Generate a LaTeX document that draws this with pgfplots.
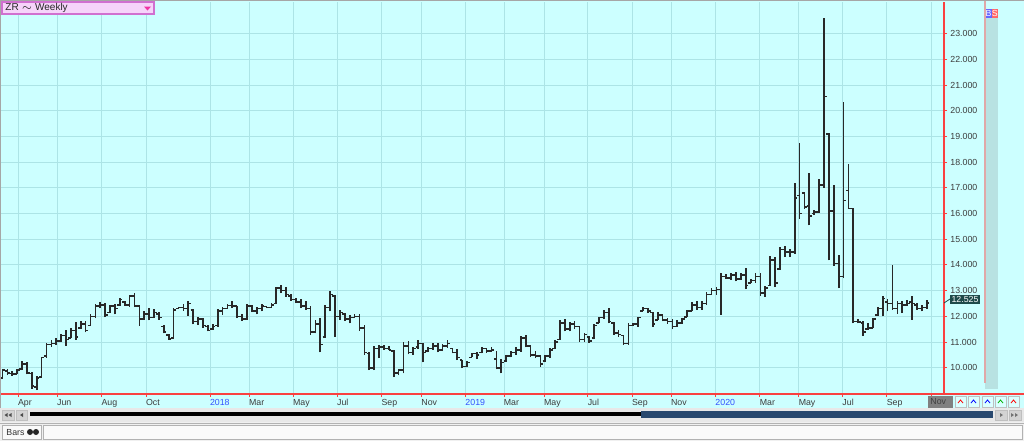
\documentclass[border=0pt]{standalone}
\usepackage{pgfplots}
\pgfplotsset{compat=1.18}
\usepackage{pgfplotstable}
\usepackage{fontspec}
\setmainfont{Liberation Sans}

\definecolor{bgc}{RGB}{204,255,255}
\definecolor{gridc}{RGB}{172,228,230}
\definecolor{barc}{RGB}{40,40,40}
\definecolor{axred}{RGB}{250,64,64}
\definecolor{yearblue}{RGB}{50,80,255}
\definecolor{labgrey}{RGB}{60,60,60}
\definecolor{stripc}{RGB}{184,226,226}
\definecolor{pinkline}{RGB}{224,168,168}
\definecolor{tagc}{RGB}{30,74,74}
\definecolor{novc}{RGB}{128,128,128}
\definecolor{pinkfill}{RGB}{246,212,250}
\definecolor{pinkedge}{RGB}{208,112,208}
\definecolor{scrollbg}{RGB}{232,232,232}
\definecolor{navybar}{RGB}{40,72,110}
\definecolor{statusbg}{RGB}{240,240,240}

% open tick to the left, close tick to the right
\pgfdeclareplotmark{otick}{\pgfpathmoveto{\pgfqpoint{-1.3pt}{0pt}}\pgfpathlineto{\pgfqpoint{0pt}{0pt}}\pgfusepathqstroke}
\pgfdeclareplotmark{ctick}{\pgfpathmoveto{\pgfqpoint{0pt}{0pt}}\pgfpathlineto{\pgfqpoint{1.3pt}{0pt}}\pgfusepathqstroke}

% weekly bars: index, open, high, low, close
\pgfplotstableread{
x O H L C
0 9.60 9.94 9.56 9.90
1 9.88 9.95 9.71 9.80
2 9.78 9.88 9.69 9.75
3 9.76 9.94 9.74 9.90
4 9.95 10.26 9.91 10.15
5 10.15 10.23 9.74 9.80
6 9.78 9.82 9.19 9.30
7 9.25 9.67 9.13 9.60
8 9.65 10.43 9.65 10.40
9 10.45 10.95 10.39 10.90
10 10.90 11.08 10.82 10.95
11 10.95 11.15 10.89 11.05
12 11.05 11.30 11.02 11.25
13 11.25 11.47 10.86 11.10
14 11.15 11.54 11.15 11.45
15 11.45 11.77 11.08 11.20
16 11.55 11.80 11.51 11.70
17 11.70 11.80 11.38 11.45
18 11.65 12.08 11.64 12.00
19 12.00 12.47 11.93 12.40
20 12.40 12.54 12.32 12.45
21 12.45 12.51 11.97 12.05
22 12.15 12.45 12.12 12.40
23 12.40 12.47 12.08 12.30
24 12.45 12.71 12.42 12.65
25 12.55 12.58 12.42 12.45
26 12.45 12.84 12.38 12.80
27 12.80 12.90 12.36 12.40
28 12.40 12.45 11.64 11.90
29 11.90 12.21 11.86 12.10
30 12.10 12.32 11.84 11.95
31 11.95 12.28 11.93 12.15
32 12.10 12.15 11.86 11.95
33 11.60 11.67 11.34 11.40
34 11.28 11.30 11.08 11.12
35 11.15 12.32 11.11 12.25
36 12.30 12.38 12.28 12.35
37 12.35 12.47 12.21 12.30
38 12.30 12.58 12.03 12.50
39 12.25 12.28 11.69 11.80
40 11.80 11.99 11.67 11.90
41 11.90 11.95 11.56 11.65
42 11.60 11.67 11.41 11.45
43 11.50 11.69 11.47 11.60
44 11.65 12.29 11.60 12.20
45 12.20 12.38 12.06 12.30
46 12.30 12.47 12.29 12.42
47 12.42 12.58 12.32 12.40
48 12.40 12.42 11.93 12.00
49 12.00 12.08 11.82 11.90
50 11.90 12.47 11.86 12.40
51 12.40 12.45 12.16 12.20
52 12.20 12.38 12.08 12.30
53 12.30 12.47 12.19 12.40
54 12.38 12.42 12.32 12.35
55 12.35 12.51 12.32 12.45
56 12.50 13.16 12.47 13.10
57 13.10 13.20 12.90 13.00
58 13.00 13.16 12.77 12.85
59 12.80 12.86 12.60 12.65
60 12.65 12.71 12.51 12.55
61 12.55 12.67 12.32 12.40
62 12.40 12.60 12.25 12.30
63 12.30 12.42 11.28 11.40
64 11.40 11.86 11.34 11.70
65 11.70 11.93 10.60 10.90
66 11.20 12.45 11.17 12.35
67 12.35 13.00 12.19 12.85
68 12.80 12.84 11.21 12.00
69 12.00 12.25 11.86 12.15
70 12.10 12.12 11.82 11.90
71 11.90 12.06 11.73 11.95
72 11.95 12.08 11.93 12.00
73 12.00 12.08 11.43 11.55
74 11.55 11.67 10.50 10.60
75 10.55 10.62 9.91 10.00
76 10.00 10.86 9.91 10.75
77 10.75 10.89 10.37 10.80
78 10.80 10.89 10.69 10.75
79 10.75 10.86 10.69 10.70
80 10.65 10.69 9.65 9.80
81 9.80 9.95 9.71 9.90
82 9.90 11.00 9.78 10.85
83 10.85 11.04 10.52 10.60
84 10.60 10.82 10.50 10.75
85 10.80 11.08 10.73 10.95
86 10.95 10.95 10.21 10.60
87 10.65 10.82 10.60 10.75
88 10.75 10.95 10.69 10.85
89 10.85 10.95 10.60 10.70
90 10.70 10.91 10.65 10.85
91 10.85 11.08 10.78 10.95
92 10.75 10.76 10.56 10.60
93 10.60 10.73 10.30 10.40
94 10.30 10.30 9.98 10.05
95 10.05 10.27 10.04 10.20
96 10.40 10.59 10.40 10.55
97 10.55 10.63 10.33 10.50
98 10.60 10.82 10.56 10.75
99 10.75 10.76 10.59 10.65
100 10.65 10.79 10.63 10.70
101 10.35 10.65 9.94 10.00
102 10.00 10.33 9.78 10.20
103 10.25 10.50 10.24 10.45
104 10.45 10.66 10.40 10.60
105 10.60 10.79 10.50 10.70
106 10.70 11.24 10.63 11.15
107 11.15 11.28 10.79 10.85
108 10.85 10.89 10.43 10.50
109 10.50 10.66 10.37 10.45
110 10.45 10.50 10.04 10.15
111 10.25 10.50 10.24 10.45
112 10.45 10.76 10.37 10.70
113 10.75 11.08 10.72 11.00
114 11.10 11.86 11.08 11.75
115 11.75 11.89 11.41 11.50
116 11.50 11.76 11.41 11.70
117 11.70 11.80 11.50 11.60
118 11.60 11.63 11.02 11.10
119 11.10 11.37 11.02 11.30
120 11.20 11.24 10.98 11.05
121 11.15 11.71 11.10 11.65
122 11.75 11.99 11.73 11.95
123 11.95 12.23 11.89 12.15
124 12.15 12.32 11.73 11.80
125 11.75 11.76 11.28 11.35
126 11.35 11.47 11.21 11.30
127 11.25 11.28 10.89 10.95
128 10.95 11.73 10.89 11.65
129 11.65 11.73 11.63 11.70
130 11.70 11.99 11.60 11.95
131 12.20 12.38 12.19 12.30
132 12.30 12.32 12.12 12.20
133 12.15 12.15 11.60 11.70
134 11.85 12.15 11.84 12.05
135 12.05 12.06 11.80 11.85
136 11.85 11.93 11.71 11.80
137 11.80 11.89 11.50 11.60
138 11.60 11.84 11.60 11.75
139 11.75 11.93 11.71 11.90
140 11.97 12.25 11.97 12.20
141 12.20 12.54 12.19 12.45
142 12.45 12.58 12.25 12.35
143 12.35 12.58 12.25 12.50
144 12.50 12.93 12.45 12.85
145 12.85 13.10 12.84 13.00
146 13.00 13.14 12.84 13.05
147 13.05 13.69 12.06 13.55
148 13.55 13.66 13.45 13.50
149 13.50 13.69 13.43 13.60
150 13.60 13.71 13.36 13.45
151 13.45 13.69 13.43 13.60
152 13.60 13.88 13.06 13.20
153 13.30 13.45 13.30 13.40
154 13.40 13.69 13.30 13.55
155 13.55 13.69 12.80 12.90
156 12.90 13.17 12.77 13.10
157 13.20 14.36 13.19 14.20
158 14.20 14.30 13.14 13.30
159 13.85 14.70 13.82 14.60
160 14.60 14.73 14.30 14.50
161 14.50 14.62 14.30 14.50
162 14.50 17.20 14.44 16.60
163 16.70 18.74 15.80 16.00
164 16.80 16.84 16.19 16.25
165 16.30 17.57 15.54 15.90
166 16.00 16.13 15.95 16.05
167 16.05 17.33 16.03 17.10
168 17.10 23.61 17.00 20.55
169 19.10 19.13 14.18 16.10
170 16.10 17.10 13.97 14.05
171 14.05 14.40 13.10 13.55
172 13.55 20.33 13.49 16.50
173 16.90 17.92 16.19 16.20
174 16.20 16.22 11.73 11.80
175 11.80 11.89 11.73 11.78
176 11.75 11.80 11.24 11.40
177 11.50 11.73 11.47 11.55
178 11.55 11.93 11.54 11.90
179 12.05 12.38 12.02 12.30
180 12.30 12.80 12.00 12.70
181 12.55 12.67 12.19 12.50
182 12.50 14.01 12.25 12.30
183 12.30 12.58 12.10 12.50
184 12.50 12.58 12.12 12.45
185 12.45 12.62 12.41 12.50
186 12.55 12.80 11.86 12.50
187 12.45 12.51 12.25 12.30
188 12.30 12.45 12.19 12.35
189 12.35 12.64 12.28 12.525
}\ohlc

\begin{document}
\begin{tikzpicture}[x=0.5pt,y=-0.5pt,font=\fontsize{4.4pt}{5pt}\selectfont]
\path[use as bounding box] (0,0) rectangle (1024,441);
\fill[bgc] (0,0) rectangle (1024,408);
% side strip
\fill[stripc] (985,9) rectangle (998,389);
\draw[pinkline, line width=0.6pt] (985,0) -- (985,383);

\begin{axis}[
    at={(0pt,-197pt)}, anchor=south west,
    scale only axis, width=472pt, height=196pt,
    xmin=-0.51, xmax=192.54, ymin=8.977, ymax=24.23,
    axis x line*=bottom, axis y line*=right,
    axis line style={axred, line width=0.6pt},
    tick style={axred, line width=0.5pt},
    tick align=outside, major tick length=1.5pt,
    grid=major, grid style={gridc, line width=0.5pt},
    xtick={3.23,11.21,20.29,29.41,42.49,50.47,59.47,68.47,77.55,85.72,94.72,102.56,110.80,119.73,128.79,136.77,145.85,154.91,162.88,171.82,180.88,190.02},
    xticklabels={Apr,Jun,Aug,Oct,\textcolor{yearblue}{2018},Mar,May,Jul,Sep,Nov,\textcolor{yearblue}{2019},Mar,May,Jul,Sep,Nov,\textcolor{yearblue}{2020},Mar,May,Jul,Sep,{}},
    xticklabel style={anchor=north west, inner sep=0pt, text=labgrey, xshift=-0.3pt, yshift=-0.9pt},
    ytick={10,...,23}, yticklabel pos=right,
    yticklabel style={anchor=west, inner sep=0pt, text=labgrey, xshift=1.5pt,
        /pgf/number format/.cd, fixed, fixed zerofill, precision=3, assume math mode=true},
]
% high-low lines
\addplot[draw=none, mark=none, line width=0.85pt,
    error bars/.cd, y dir=plus, y explicit, error mark=none,
    error bar style={draw=barc, line width=0.85pt}]
    table[x=x, y=L, y error plus expr=\thisrow{H}-\thisrow{L}] {\ohlc};
% open ticks
\addplot[barc, only marks, mark=otick, mark options={barc, line width=0.8pt}]
    table[x=x, y=O] {\ohlc};
% close ticks
\addplot[barc, only marks, mark=ctick, mark options={barc, line width=0.8pt}]
    table[x=x, y=C] {\ohlc};
\end{axis}

% red base line runs on to the right edge
\draw[axred, line width=0.6pt] (944,394) -- (1024,394);
% frame
\draw[gray!70, line width=0.6pt] (0,0.5) -- (1024,0.5);
\draw[gray!70, line width=0.6pt] (0.5,0) -- (0.5,408);

% last price tag
\draw[tagc, line width=0.4pt] (944,303) -- (950,299);
\fill[tagc] (950,295) rectangle (980,303.5);
\node[text=white, anchor=center, inner sep=0pt] at (965,299.3) {12.525};

% B / S badges
\fill[blue!60] (985.5,8.5) rectangle (991.5,17.5);
\fill[red!60] (991.5,8.5) rectangle (998,17.5);
\node[text=white, inner sep=0pt] at (988.5,13) {B};
\node[text=white, inner sep=0pt] at (994.8,13) {S};

% symbol box top left
\draw[fill=pinkfill, draw=pinkedge, line width=0.6pt] (2,2) rectangle (154,14);
\node[anchor=west, inner sep=0pt, text=black!85, font=\fontsize{5pt}{6pt}\selectfont] at (5,8.2) {ZR \raisebox{0.3pt}{$\scriptstyle\sim$} Weekly};
\fill[magenta!80] (144,6.5) -- (151,6.5) -- (147.5,10.5) -- cycle;

% current month label
\fill[novc] (928,395.5) rectangle (953,407.5);
\node[anchor=west, inner sep=0pt, text=black!75] at (930,401.5) {Nov};
% small buttons
\foreach \bx/\bc in {955/red,968/blue,982/blue,995/green!70!black,1008/red}{
  \draw[fill=bgc!70!white, draw=gray!50, line width=0.3pt] (\bx,396) rectangle (\bx+11,407);
  \draw[\bc, line width=0.4pt] (\bx+3,403) -- (\bx+5.5,400) -- (\bx+8,403);
}

% scrollbar
\fill[scrollbg] (0,408) rectangle (1024,422);
\draw[gray!50, line width=0.3pt, fill=scrollbg!80!gray] (2,410) rectangle (14,420);
\draw[gray!50, line width=0.3pt, fill=scrollbg!80!gray] (16,410) rectangle (27,420);
\fill[black!70] (4.5,415) -- (7.5,413) -- (7.5,417) -- cycle;
\fill[black!70] (8.5,415) -- (11.5,413) -- (11.5,417) -- cycle;
\fill[black!70] (20,415) -- (23,413) -- (23,417) -- cycle;
\draw[black, line width=1.6pt] (30,414) -- (642,414);
\fill[navybar] (641,410.5) rectangle (993,417.5);
\draw[gray!50, line width=0.3pt, fill=scrollbg!80!gray] (995,410) rectangle (1007,420);
\draw[gray!50, line width=0.3pt, fill=scrollbg!80!gray] (1009,410) rectangle (1021,420);
\fill[black!55] (1003,415) -- (1000,413) -- (1000,417) -- cycle;
\fill[black!55] (1014,415) -- (1011,413) -- (1011,417) -- cycle;
\fill[black!55] (1018,415) -- (1015,413) -- (1015,417) -- cycle;

% status bar
\fill[statusbg] (0,422) rectangle (1024,441);
\draw[gray!60, line width=0.4pt] (0,423) -- (1024,423);
\draw[gray!60, line width=0.4pt, fill=white!96!gray] (2,425) rectangle (41,439);
\draw[gray!60, line width=0.4pt, fill=white!96!gray] (43,425) rectangle (1022,439);
\node[anchor=west, inner sep=0pt, text=black!80] at (6,432.5) {Bars};
\fill[black!85] (30,432) circle (3);
\fill[black!85] (36,432) circle (3);
\end{tikzpicture}
\end{document}
